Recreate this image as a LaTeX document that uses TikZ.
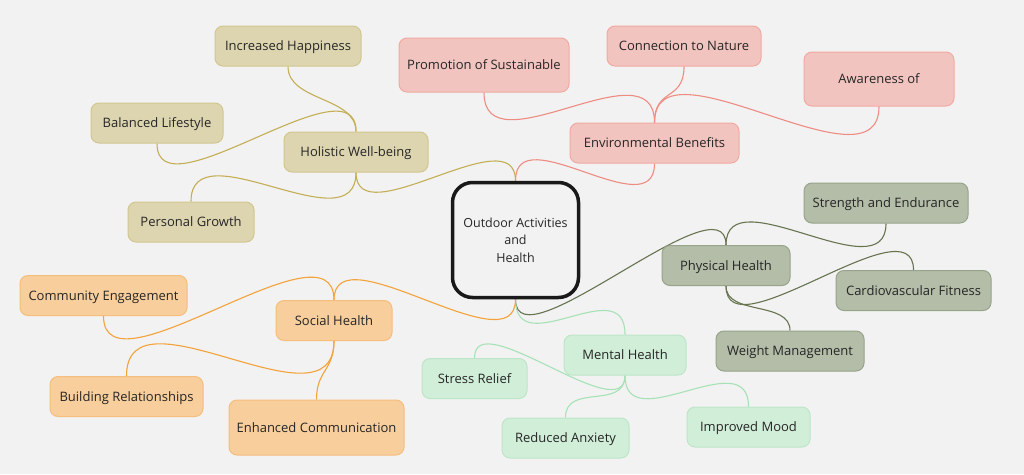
\documentclass[tikz,border=0pt]{standalone}
\usepackage{fontspec}
\setmainfont{Open Sans}
\usetikzlibrary{backgrounds}

\definecolor{bgcol}{HTML}{F2F2F2}
\definecolor{inkcol}{HTML}{262626}
\definecolor{tanfill}{HTML}{DDD5B0}
\definecolor{tandraw}{HTML}{D2C690}
\definecolor{tanln}{HTML}{C4AE55}
\definecolor{pinkfill}{HTML}{F2C4BF}
\definecolor{pinkdraw}{HTML}{F0AAA2}
\definecolor{pinkln}{HTML}{EE8C82}
\definecolor{olivefill}{HTML}{B3BDA8}
\definecolor{olivedraw}{HTML}{97A38A}
\definecolor{oliveln}{HTML}{66744F}
\definecolor{mintfill}{HTML}{D1EED8}
\definecolor{mintdraw}{HTML}{BDE6C8}
\definecolor{mintln}{HTML}{A6E2B6}
\definecolor{orangefill}{HTML}{F7CE9C}
\definecolor{orangedraw}{HTML}{F5BE7E}
\definecolor{orangeln}{HTML}{F4A23A}

\tikzset{
  leaf/.style={rounded corners=8pt,line width=1pt,inner sep=0pt,
    minimum height=40pt,align=center,text=inkcol,
    text height=11pt,text depth=2pt,
    font=\fontsize{13pt}{17.5pt}\selectfont},
  topic/.style={draw=black!90,fill=bgcol,line width=3.5pt,rounded corners=20pt,
    minimum width=126pt,minimum height=115pt,align=center,text=inkcol,
    font=\fontsize{12.5pt}{17.5pt}\selectfont},
  tanbox/.style={leaf,fill=tanfill,draw=tandraw},
  pinkbox/.style={leaf,fill=pinkfill,draw=pinkdraw},
  olivebox/.style={leaf,fill=olivefill,draw=olivedraw},
  mintbox/.style={leaf,fill=mintfill,draw=mintdraw},
  orangebox/.style={leaf,fill=orangefill,draw=orangedraw},
  tanlink/.style={draw=tanln,line width=1.1pt},
  pinklink/.style={draw=pinkln,line width=1.1pt},
  olivelink/.style={draw=oliveln,line width=1.1pt},
  mintlink/.style={draw=mintln,line width=1.1pt},
  orangelink/.style={draw=orangeln,line width=1.1pt}
}

\begin{document}
\begin{tikzpicture}[x=1pt,y=-1pt]
\useasboundingbox (0,0) rectangle (1024,474);

% centre
\node[topic] (root) at (515.5,240) {Outdoor Activities\\and\\Health};

% holistic well-being
\node[tanbox,minimum width=144pt] (holi) at (356,152) {Holistic Well-being};
\node[tanbox,minimum width=146pt] (happy) at (288,46) {Increased Happiness};
\node[tanbox,minimum width=132pt] (bal) at (157,123) {Balanced Lifestyle};
\node[tanbox,minimum width=126pt] (grow) at (191,222) {Personal Growth};

% environmental benefits
\node[pinkbox,minimum width=169pt] (env) at (654.5,143) {Environmental Benefits};
\node[pinkbox,minimum width=170pt,minimum height=54pt] (prom) at (484,65) {Promotion of Sustainable};
\node[pinkbox,minimum width=154pt] (nat) at (684,46) {Connection to Nature};
\node[pinkbox,minimum width=150pt,minimum height=54pt] (aware) at (879,79) {Awareness of};

% physical health
\node[olivebox,minimum width=128pt] (phys) at (726,265.5) {Physical Health};
\node[olivebox,minimum width=164pt] (str) at (886,203) {Strength and Endurance};
\node[olivebox,minimum width=155pt] (cardio) at (913.5,290.5) {Cardiovascular Fitness};
\node[olivebox,minimum width=148pt] (weight) at (790,351) {Weight Management};

% mental health
\node[mintbox,minimum width=122pt] (ment) at (625,355) {Mental Health};
\node[mintbox,minimum width=105pt] (stress) at (474.5,378.5) {Stress Relief};
\node[mintbox,minimum width=127pt] (anx) at (565.5,438) {Reduced Anxiety};
\node[mintbox,minimum width=123pt] (mood) at (748.5,427) {Improved Mood};

% social health
\node[orangebox,minimum width=116pt] (soc) at (334,320.5) {Social Health};
\node[orangebox,minimum width=167pt] (comm) at (103.5,295.5) {Community Engagement};
\node[orangebox,minimum width=153pt] (build) at (126.5,396.5) {Building Relationships};
\node[orangebox,minimum width=175pt,minimum height=55pt] (enh) at (316.5,427.5) {Enhanced Communication};

\begin{scope}[on background layer]
\fill[bgcol] (0,0) rectangle (1024,474);

\draw[tanlink] (root.north) .. controls +(0,-65) and +(0,65) .. (holi.south);
\draw[tanlink] (holi.north) .. controls +(0,-35) and +(0,35) .. (happy.south);
\draw[tanlink] (holi.north) .. controls +(0,-75) and +(0,75) .. (bal.south);
\draw[tanlink] (holi.south) .. controls +(0,75) and +(0,-75) .. (grow.north);

\draw[pinklink] (root.north) .. controls +(0,-65) and +(0,65) .. (env.south);
\draw[pinklink] (env.north) .. controls +(0,-80) and +(0,80) .. (prom.south);
\draw[pinklink] (env.north) .. controls +(0,-35) and +(0,35) .. (nat.south);
\draw[pinklink] (env.north) .. controls +(0,-90) and +(0,90) .. (aware.south);

\draw[olivelink] (root.south) .. controls +(0,70) and +(0,-70) .. (phys.north);
\draw[olivelink] (phys.north) .. controls +(0,-70) and +(0,70) .. (str.south);
\draw[olivelink] (phys.south) .. controls +(0,70) and +(0,-70) .. (cardio.north);
\draw[olivelink] (phys.south) .. controls +(0,30) and +(0,-30) .. (weight.north);

\draw[mintlink] (root.south) .. controls +(0,65) and +(0,-65) .. (ment.north);
\draw[mintlink] (ment.south) .. controls +(0,55) and +(0,-55) .. (stress.north);
\draw[mintlink] (ment.south) .. controls +(0,35) and +(0,-35) .. (anx.north);
\draw[mintlink] (ment.south) .. controls +(0,65) and +(0,-65) .. (mood.north);

\draw[orangelink] (root.south) .. controls +(0,70) and +(0,-70) .. (soc.north);
\draw[orangelink] (soc.north) .. controls +(0,-85) and +(0,85) .. (comm.south);
\draw[orangelink] (soc.south) .. controls +(0,95) and +(0,-95) .. (build.north);
\draw[orangelink] (soc.south) .. controls +(0,30) and +(0,-30) .. (enh.north);
\end{scope}

\end{tikzpicture}
\end{document}
